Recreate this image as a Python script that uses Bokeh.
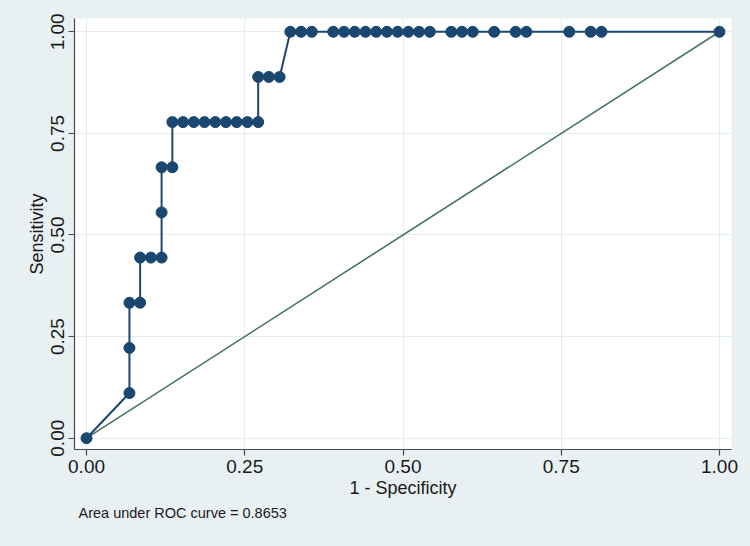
from bokeh.plotting import figure
from bokeh.models import Range1d, FixedTicker, Title
from bokeh.embed import file_html
from bokeh.resources import INLINE

# ROC points (1 - specificity, sensitivity)
fpr = [0.0000, 0.0678, 0.0678, 0.0678, 0.0847, 0.0847, 0.1017, 0.1186, 0.1186, 0.1186,
       0.1356, 0.1356, 0.1525, 0.1695, 0.1864, 0.2034, 0.2203, 0.2373, 0.2542, 0.2712,
       0.2712, 0.2881, 0.3051, 0.3220, 0.3390, 0.3559, 0.3898, 0.4068, 0.4237, 0.4407,
       0.4576, 0.4746, 0.4915, 0.5085, 0.5254, 0.5424, 0.5763, 0.5932, 0.6102, 0.6441,
       0.6780, 0.6949, 0.7627, 0.7966, 0.8136, 1.0000]
tpr = [0.0000, 0.1111, 0.2222, 0.3333, 0.3333, 0.4444, 0.4444, 0.4444, 0.5556, 0.6667,
       0.6667, 0.7778, 0.7778, 0.7778, 0.7778, 0.7778, 0.7778, 0.7778, 0.7778, 0.7778,
       0.8889, 0.8889, 0.8889, 1.0000, 1.0000, 1.0000, 1.0000, 1.0000, 1.0000, 1.0000,
       1.0000, 1.0000, 1.0000, 1.0000, 1.0000, 1.0000, 1.0000, 1.0000, 1.0000, 1.0000,
       1.0000, 1.0000, 1.0000, 1.0000, 1.0000, 1.0000]
ref_x = [0.0, 1.0]
ref_y = [0.0, 1.0]
tick_values = [0.0, 0.25, 0.5, 0.75, 1.0]
tick_labels = ["0.00", "0.25", "0.50", "0.75", "1.00"]
auc_text = "Area under ROC curve = 0.8653"
x_title = "1 - Specificity"
y_title = "Sensitivity"

BG = "#e9f0f2"
NAVY = "#1a476f"
GREEN = "#467565"
FONT = "Liberation Sans"

p = figure(width=750, height=546, output_backend="svg", toolbar_location=None,
           x_range=Range1d(-0.019, 1.019), y_range=Range1d(-0.0278, 1.0327),
           min_border_left=74, min_border_right=19, min_border_top=18, min_border_bottom=97)
p.background_fill_color = "white"
p.border_fill_color = BG
p.outline_line_color = None

p.line(ref_x, ref_y, line_color=GREEN, line_width=1.6)
p.line(fpr, tpr, line_color=NAVY, line_width=2)
p.scatter(fpr, tpr, size=11, fill_color=NAVY, line_color=NAVY)

labels = dict(zip(tick_values, tick_labels))
for ax in (p.xaxis, p.yaxis):
    ax.ticker = FixedTicker(ticks=tick_values)
    ax.major_label_overrides = labels
    ax.minor_tick_line_color = None
    ax.axis_line_color = "#4a4a4a"
    ax.axis_line_width = 1.2
    ax.major_tick_line_color = "#4a4a4a"
    ax.major_tick_line_width = 1.2
    ax.major_tick_out = 6
    ax.major_tick_in = 0
    ax.major_label_text_font = FONT
    ax.major_label_text_font_size = "19px"
    ax.major_label_text_color = "#1a1a1a"
    ax.axis_label_text_font = FONT
    ax.axis_label_text_font_size = "18px"
    ax.axis_label_text_font_style = "normal"
    ax.axis_label_text_color = "#1a1a1a"
    ax.major_label_standoff = 4
    ax.axis_label_standoff = 2

p.xaxis.axis_label = x_title
p.yaxis.axis_label = y_title
p.yaxis.major_label_orientation = "vertical"

for g in (p.xgrid, p.ygrid):
    g.ticker = FixedTicker(ticks=tick_values)
    g.grid_line_color = "#e4ecef"
    g.grid_line_width = 1

p.add_layout(Title(text=auc_text, align="left", offset=4, standoff=5,
                   text_font=FONT, text_font_size="14.5px", text_font_style="normal",
                   text_color="#1a1a1a"), "below")

html = file_html(p, INLINE)
html = html.replace("<head>", "<head><style>html,body{background:%s;}</style>" % BG, 1)
open("out.html", "w").write(html)
